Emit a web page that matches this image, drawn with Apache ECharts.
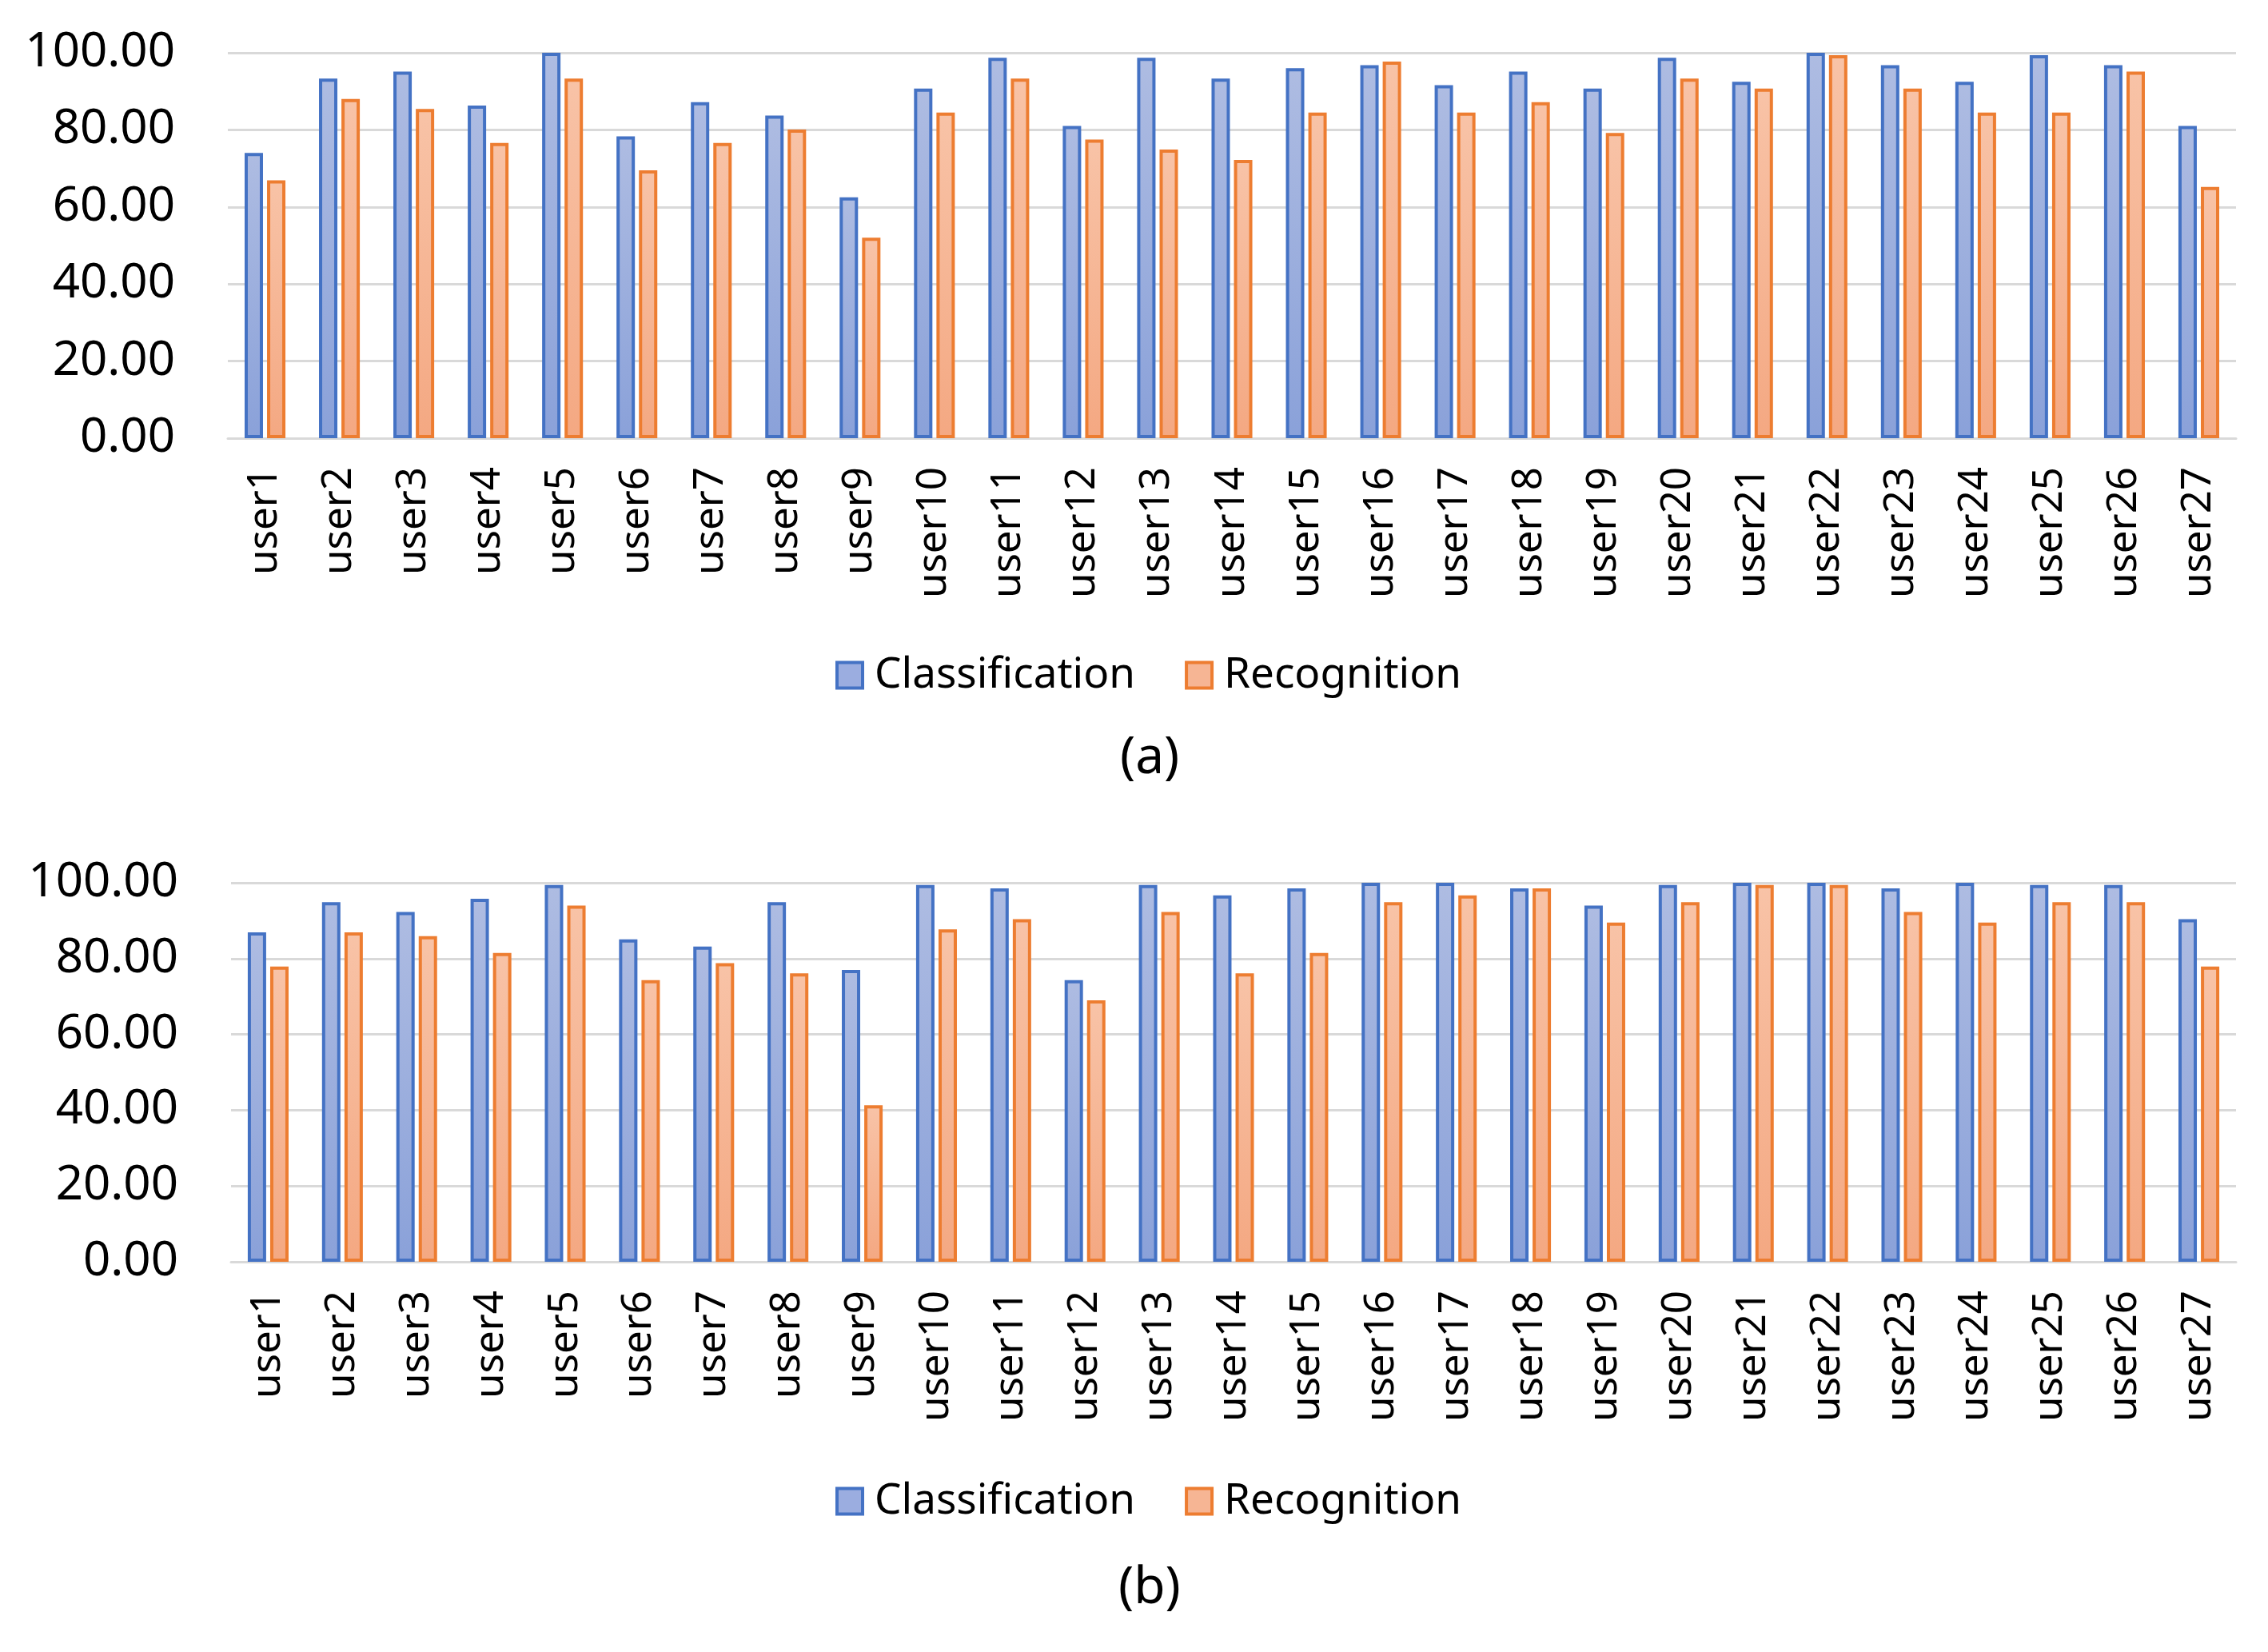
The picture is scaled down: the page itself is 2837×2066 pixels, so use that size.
<!DOCTYPE html>
<html>
<head>
<meta charset="utf-8">
<script src="https://cdn.jsdelivr.net/npm/echarts@6/dist/echarts.min.js"></script>
<style>
html,body{margin:0;padding:0;background:#fff;}
#chart{width:2837px;height:2066px;}
</style>
</head>
<body>
<div id="chart"></div>
<script>
const categories = ["user1","user2","user3","user4","user5","user6","user7","user8","user9","user10","user11","user12","user13","user14","user15","user16","user17","user18","user19","user20","user21","user22","user23","user24","user25","user26","user27"];

const classificationA = [74.0,93.3,95.1,86.3,100.0,78.3,87.2,83.7,62.5,90.7,98.7,81.0,98.7,93.3,96.0,96.8,91.6,95.1,90.7,98.7,92.5,100.0,96.8,92.5,99.4,96.8,81.0];
const recognitionA    = [66.9,88.0,85.4,76.6,93.3,69.5,76.6,80.1,52.0,84.5,93.3,77.5,74.9,72.2,84.5,97.7,84.5,87.2,79.2,93.3,90.7,99.4,90.7,84.5,84.5,95.1,65.2];

const classificationB = [86.9,94.9,92.3,95.8,99.4,85.1,83.2,94.9,77.0,99.4,98.5,74.3,99.4,96.7,98.5,100.0,100.0,98.5,94.0,99.4,100.0,100.0,98.5,100.0,99.4,99.4,90.4];
const recognitionB    = [77.9,86.9,85.9,81.5,94.0,74.3,78.8,76.1,41.3,87.7,90.4,69.0,92.3,76.1,81.5,94.9,96.7,98.5,89.5,94.9,99.4,99.4,92.3,89.5,94.9,94.9,77.9];

const seriesNames = ["Classification","Recognition"];
const panelLabels = ["(a)","(b)"];
const yMin = 0, yMax = 100, yStep = 20;

const FONT = "Noto Sans";
const blueFill = new echarts.graphic.LinearGradient(0,0,0,1,[{offset:0,color:'#aebce2'},{offset:1,color:'#8aa1d9'}]);
const orangeFill = new echarts.graphic.LinearGradient(0,0,0,1,[{offset:0,color:'#f8c3a7'},{offset:1,color:'#f4a882'}]);
const blueBorder = '#4472c4', orangeBorder = '#ed7d31';

const chart = echarts.init(document.getElementById('chart'), null, {renderer:'canvas'});

function xAxis(gi){
  return {
    type:'category', gridIndex:gi, data:categories,
    axisLine:{show:true,lineStyle:{color:'#d9d9d9',width:3}},
    axisTick:{show:false},
    axisLabel:{rotate:90, margin:36, fontSize:51, color:'#000', fontFamily:FONT, interval:0}
  };
}
function yAxis(gi){
  return {
    type:'value', gridIndex:gi, min:yMin, max:yMax, interval:yStep,
    axisLine:{show:false}, axisTick:{show:false},
    splitLine:{lineStyle:{color:'#d9d9d9',width:3}},
    axisLabel:{margin:66, fontSize:60, color:'#000', fontFamily:FONT, formatter:v=>v.toFixed(2)}
  };
}
function bar(name, data, gi, fill, border){
  return {
    type:'bar', name:name, data:data, xAxisIndex:gi, yAxisIndex:gi,
    barWidth:23, barGap:'22%',
    itemStyle:{color:fill, borderColor:border, borderWidth:4}
  };
}
function legend(top){
  return {
    top:top, left:1040, itemWidth:32, itemHeight:32, itemGap:62,
    icon:'rect',
    textStyle:{fontSize:53, color:'#000', fontFamily:FONT, padding:[0,0,0,10]},
    data:[
      {name:seriesNames[0], itemStyle:{color:'#9bade0', borderColor:blueBorder, borderWidth:4}},
      {name:seriesNames[1], itemStyle:{color:'#f6b594', borderColor:orangeBorder, borderWidth:4}}
    ]
  };
}

chart.setOption({
  animation:false,
  backgroundColor:'#fff',
  title:[
    {text:panelLabels[0], left:1396, top:912, textStyle:{fontSize:64, fontWeight:'normal', color:'#000', fontFamily:FONT}},
    {text:panelLabels[1], left:1394, top:1950, textStyle:{fontSize:64, fontWeight:'normal', color:'#000', fontFamily:FONT}}
  ],
  legend:[legend(813), legend(1846)],
  grid:[
    {left:285, right:40, top:66, height:482},
    {left:289, right:40, top:1104, height:474}
  ],
  xAxis:[xAxis(0), xAxis(1)],
  yAxis:[yAxis(0), yAxis(1)],
  series:[
    bar(seriesNames[0], classificationA, 0, blueFill, blueBorder),
    bar(seriesNames[1], recognitionA, 0, orangeFill, orangeBorder),
    bar(seriesNames[0], classificationB, 1, blueFill, blueBorder),
    bar(seriesNames[1], recognitionB, 1, orangeFill, orangeBorder)
  ]
});
</script>
</body>
</html>
